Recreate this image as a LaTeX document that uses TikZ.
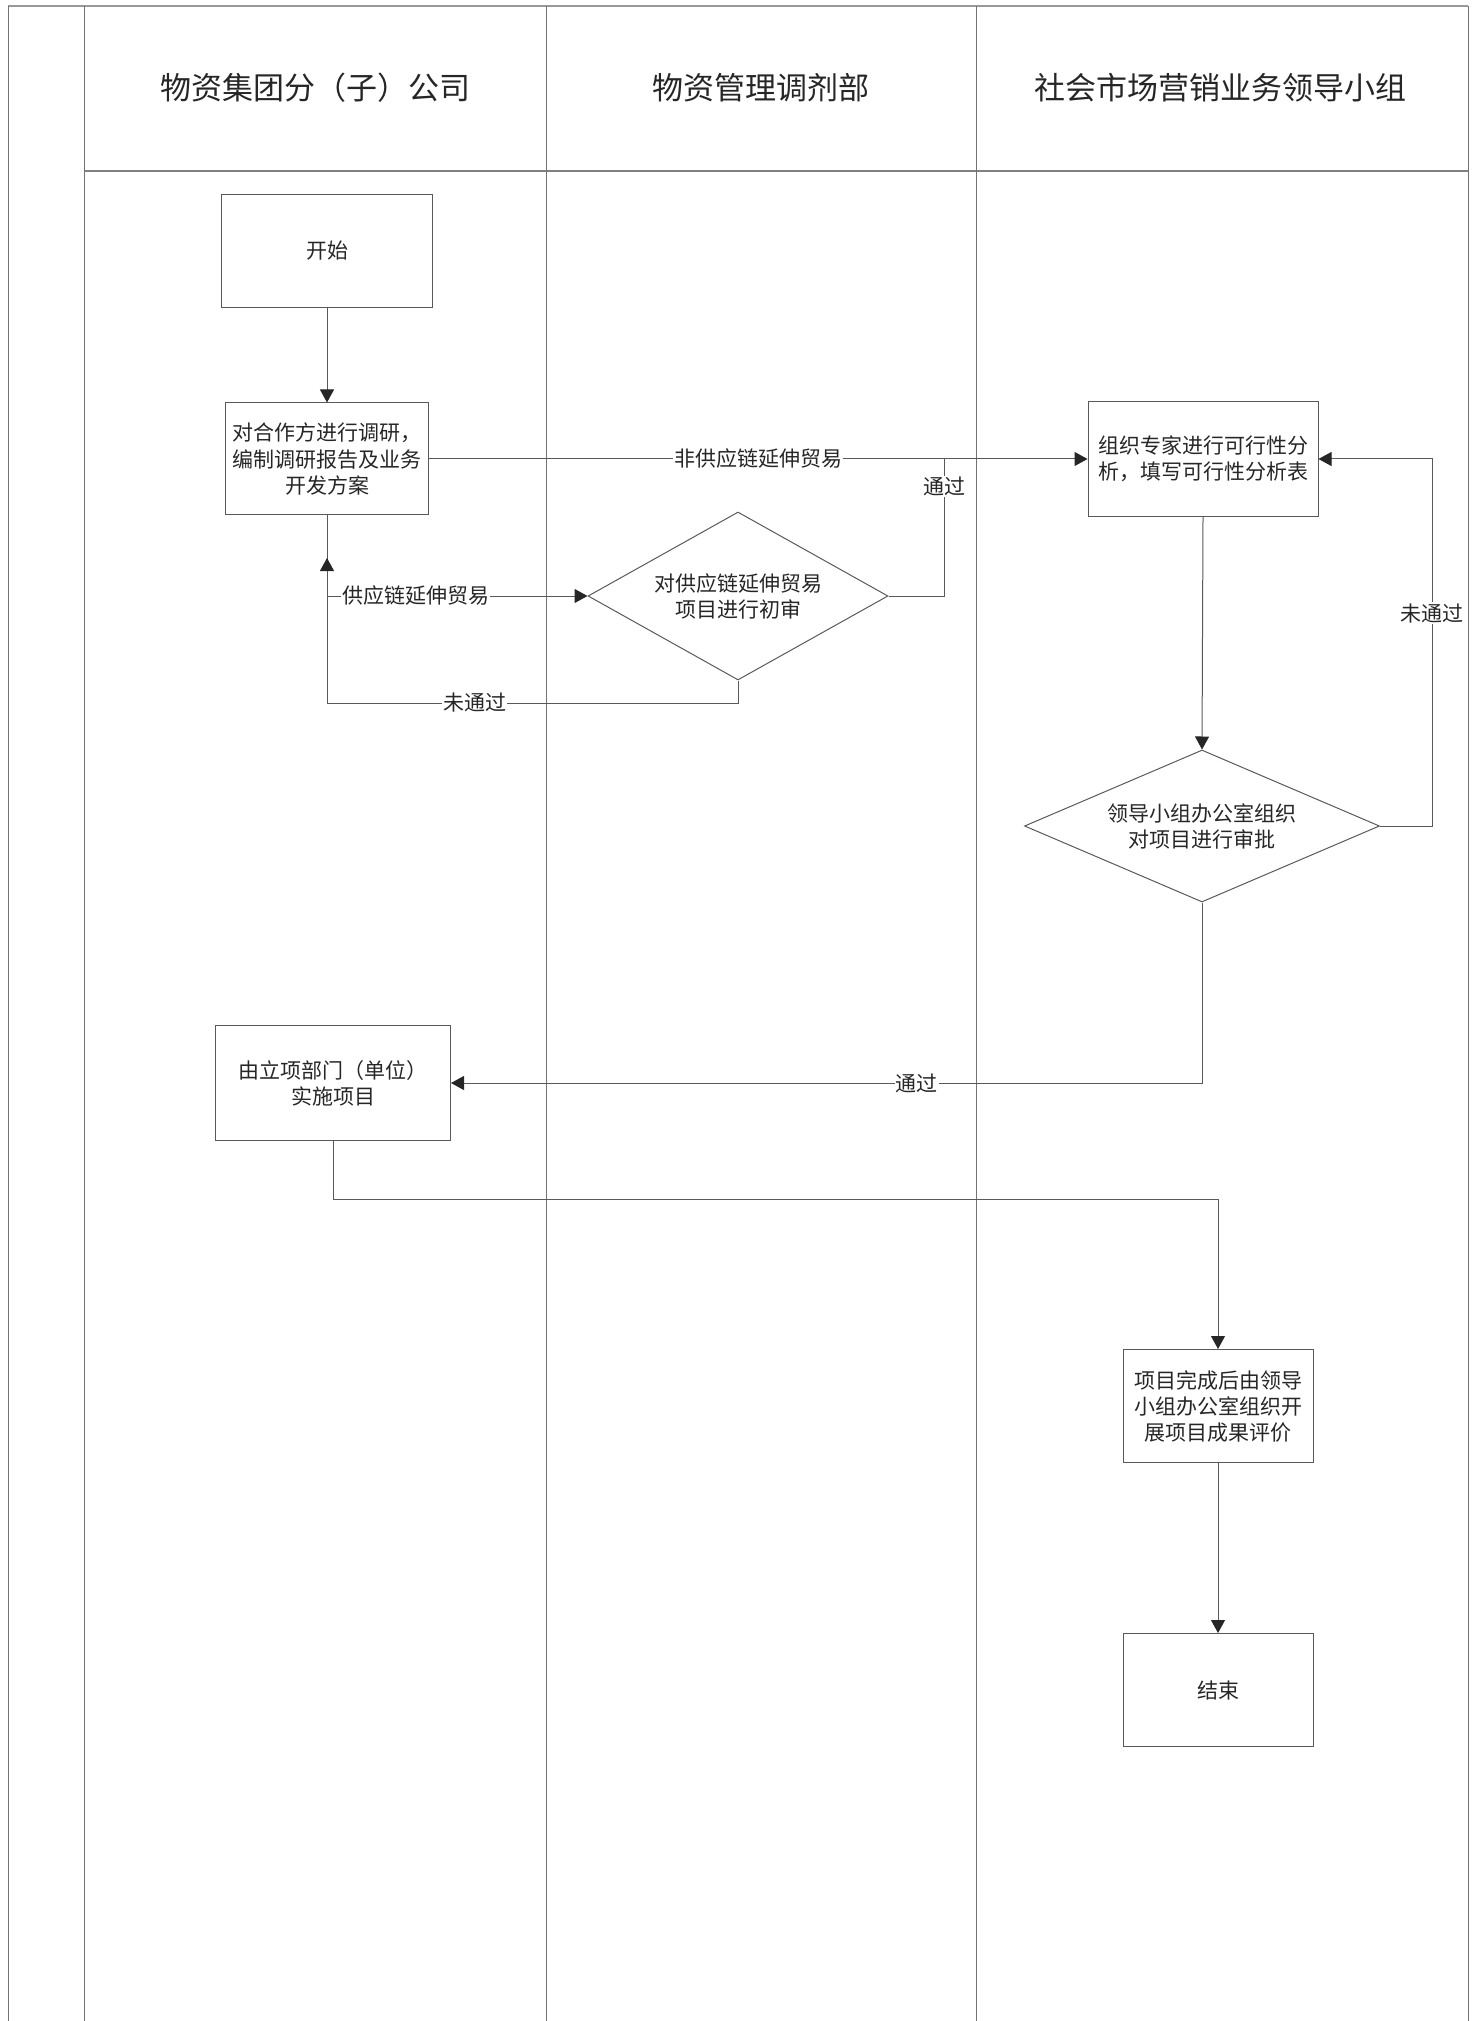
\documentclass[tikz,border=0pt]{standalone}
\usepackage{fontspec}
\setmainfont{Noto Sans CJK SC}
\usetikzlibrary{shapes.geometric,arrows.meta}

\begin{document}
\begin{tikzpicture}[x=0.5pt, y=-0.5pt,
        lane/.style={black!55, line width=0.5pt},
        box/.style={draw=black!65, line width=0.5pt, align=center, inner sep=0pt, text=black!85,
            font=\fontsize{10.5pt}{13pt}\selectfont},
        decision/.style={box, diamond},
        link/.style={black!65, line width=0.5pt},
        flow/.style={link, -{Triangle[length=6.5pt, width=7pt, color=black!85]}},
        lbl/.style={fill=white, inner sep=0.5pt, text=black!85, font=\fontsize{10.5pt}{13pt}\selectfont},
        header/.style={text=black!85, font=\fontsize{15.5pt}{18pt}\selectfont}]
        \useasboundingbox (0,0) rectangle (1473,2021);
        \draw[lane, line width=1.2pt, black!40] (8,6) -- (1468,6);
        \draw[lane, line width=0.9pt, black!50] (84,171) -- (1468,171);
        \foreach \x in {8,84,546,976,1468}
            \draw[lane] (\x,6) -- (\x,2021);

        \node[header] (company) at (315,88) {物资集团分（子）公司};
        \node[header] (dept) at (761,88) {物资管理调剂部};
        \node[header] (group) at (1220,88) {社会市场营销业务领导小组};

        \node[box, minimum width=105.5pt, minimum height=56.5pt] (start) at (327,251) {开始};
        \node[box, minimum width=101.5pt, minimum height=56pt] (research) at (327,459)
            {对合作方进行调研，\\编制调研报告及业务\\开发方案};
        \node[box, minimum width=115pt, minimum height=57.5pt] (feas) at (1203,459)
            {组织专家进行可行性分\\析，填写可行性分析表};
        \node[decision, aspect=1.8, minimum width=150pt, minimum height=84pt] (check) at (738,596)
            {对供应链延伸贸易\\项目进行初审};
        \node[decision, aspect=2.34, minimum width=177.5pt, minimum height=76pt] (approve) at (1202,826)
            {领导小组办公室组织\\对项目进行审批};
        \node[box, minimum width=117.5pt, minimum height=57.5pt] (impl) at (333,1083)
            {由立项部门（单位）\\实施项目};
        \node[box, minimum width=95pt, minimum height=56.5pt] (evaluate) at (1218,1406)
            {项目完成后由领导\\小组办公室组织开\\展项目成果评价};
        \node[box, minimum width=95pt, minimum height=56.5pt] (finish) at (1218,1690) {结束};

        \coordinate (back) at (327,558);
        \coordinate (checkdown) at (738,703);
        \coordinate (join) at (944,459);
        \coordinate (retry) at (1432,459);

        \draw[flow] (start) -- (research);
        \draw[flow] (research.east) -- node[lbl] {非供应链延伸贸易} (feas.west);
        \draw[flow] (research.south) |- node[lbl, pos=0.67] {供应链延伸贸易} (check.west);
        \draw[flow] (check.south) -- (checkdown) -| node[lbl, pos=0.32] {未通过} (back);
        \draw[link] (check.east) -| node[lbl, pos=0.9] {通过} (join);
        \draw[flow] (feas.south) -- (approve.north);
        \draw[flow] (approve.east) -| node[lbl, pos=0.79] {未通过} (retry) -- (feas.east);
        \draw[flow] (approve.south) |- node[lbl, pos=0.69] {通过} (impl.east);
        \draw[flow] (impl.south) -- ++(0,58) -| (evaluate.north);
        \draw[flow] (evaluate.south) -- (finish.north);
    \end{tikzpicture}
\end{document}
